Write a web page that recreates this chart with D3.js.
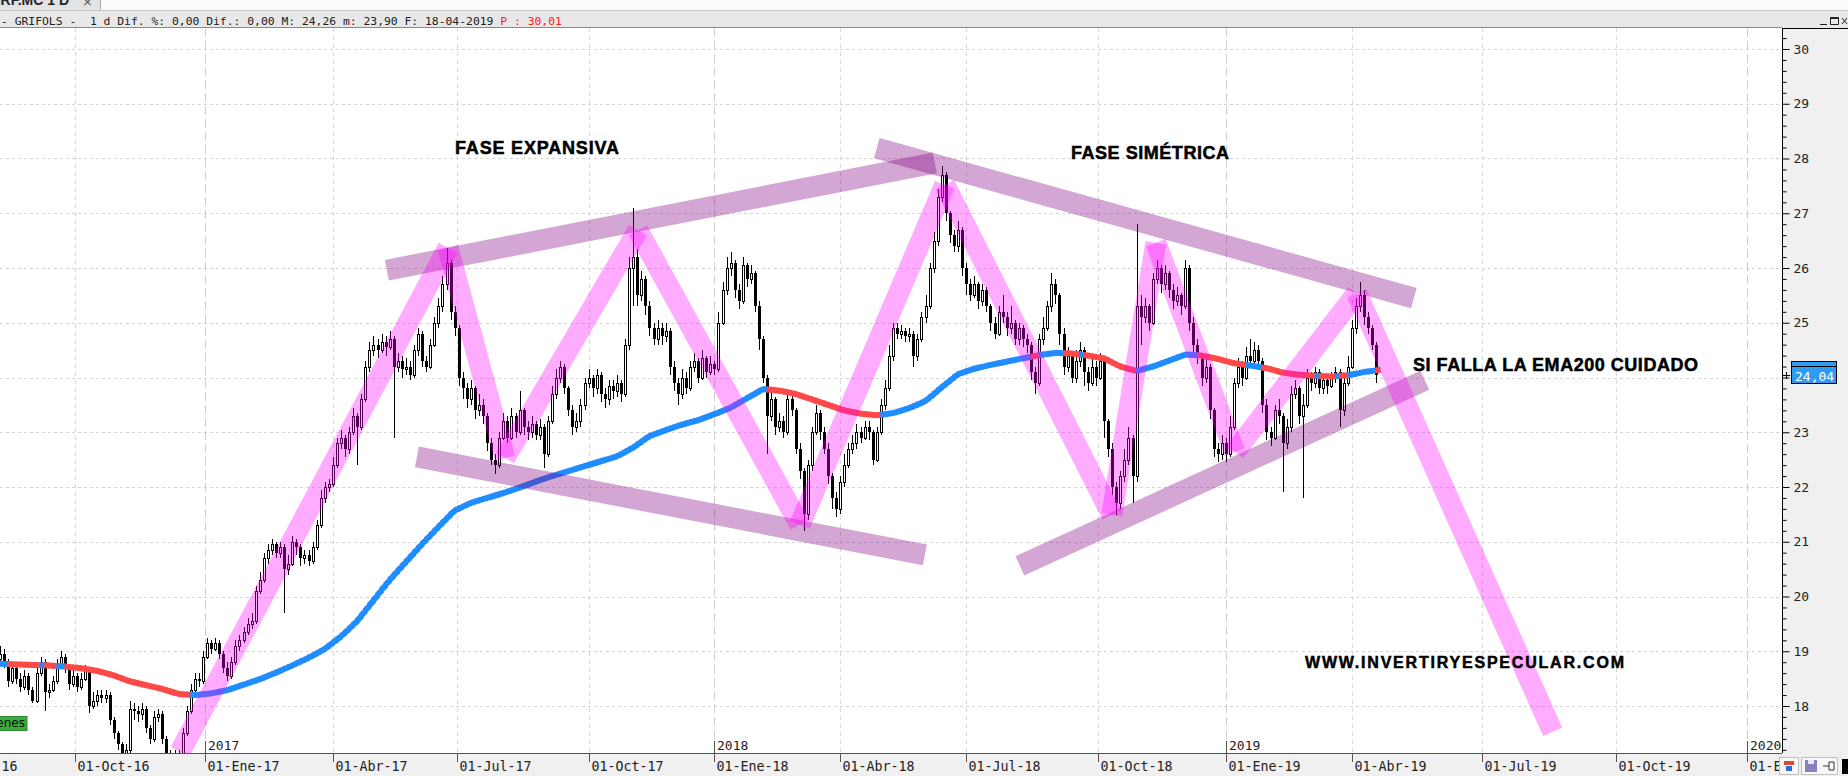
<!DOCTYPE html>
<html><head><meta charset="utf-8">
<script src="https://cdnjs.cloudflare.com/ajax/libs/d3/7.8.5/d3.min.js"></script>
<style>html,body{margin:0;padding:0;background:#fff;overflow:hidden}svg{display:block}text{white-space:pre}</style>
</head><body><svg id="c" width="1848" height="776"></svg>
<script>
// ---------- DATA ----------
// one candle every 2 trading days, first bar at trading-day index 0
const barStepDays = 2;
const firstOpen = 18.85;
const closes = [
18.95,18.8,18.45,18.7,18.5,18.35,18.55,18.3,18.1,18.6,
18.8,18.25,18.3,18.45,18.75,18.9,18.7,18.4,18.55,18.35,
18.5,18.65,18.0,18.1,18.2,18.15,18.2,17.75,17.5,17.3,
17.1,17.2,17.95,17.9,17.85,17.95,17.6,17.4,17.8,17.85,
17.4,17.1,17.0,17.05,17.1,17.5,17.9,18.3,18.5,18.45,
18.9,19.15,19.05,19.15,18.95,18.7,18.55,18.8,19.1,19.2,
19.35,19.5,19.55,20.1,20.3,20.7,20.85,20.95,20.8,20.9,
20.5,20.6,21.0,20.9,20.7,20.75,20.65,20.9,21.3,21.8,
22.0,22.05,22.4,22.8,22.9,22.7,23.0,23.3,23.1,23.6,
24.2,24.5,24.6,24.5,24.65,24.55,24.7,24.2,24.3,24.15,
24.2,24.05,24.5,24.8,24.3,24.2,24.6,25.0,25.3,25.7,
26.1,25.2,24.9,24.0,23.8,23.6,23.8,23.4,23.5,23.3,
22.8,22.5,22.4,22.9,23.2,22.9,23.3,23.0,23.4,23.1,
23.0,23.15,22.95,23.1,22.6,23.2,23.7,24.0,24.2,23.8,
23.4,23.1,23.2,23.5,23.9,24.0,23.8,24.05,23.7,23.6,
23.85,23.75,23.9,23.7,24.6,26.0,26.2,25.5,25.8,25.3,
24.9,24.7,24.9,24.75,24.85,24.2,23.9,23.7,24.0,23.8,
24.2,24.3,24.0,24.35,24.1,24.25,24.15,25.0,25.6,26.0,
26.1,25.6,25.4,26.05,25.8,25.9,25.3,24.7,24.0,23.3,
23.6,23.1,23.2,23.0,23.6,23.4,22.7,22.3,21.5,22.4,
23.0,23.35,23.0,22.7,22.2,21.8,21.6,22.1,22.4,22.7,
22.8,23.0,22.9,23.1,23.0,22.5,23.0,23.5,23.8,24.4,
24.9,24.8,24.85,24.75,24.8,24.4,24.7,25.1,25.3,26.0,
26.5,27.3,27.7,27.0,26.6,26.4,26.7,26.0,25.7,25.5,
25.7,25.4,25.6,25.3,25.0,24.8,25.2,25.1,24.9,25.0,
24.7,24.9,24.7,24.6,24.1,23.9,24.7,24.9,25.3,25.7,
25.5,24.8,24.2,24.4,24.0,24.3,24.5,24.1,23.9,24.2,
24.0,24.3,23.2,22.7,22.0,21.7,22.2,22.5,22.9,22.2,
25.3,25.1,25.3,25.0,25.8,26.0,25.7,25.9,25.6,25.4,
25.5,25.3,26.0,25.0,24.6,24.4,24.0,24.2,23.4,22.7,
22.6,22.8,22.6,23.1,23.9,24.2,24.0,24.4,24.3,24.5,
24.3,23.5,23.0,22.9,23.4,23.3,22.8,23.1,23.7,23.8,
23.3,23.5,24.0,23.9,24.1,23.8,23.95,23.85,24.0,24.1,
23.4,23.9,24.2,24.9,25.3,25.5,25.1,24.9,24.6,24.04];
const highs = [
19.1,19.05,18.85,18.8,18.75,18.6,18.65,18.6,18.35,18.7,
18.9,18.85,18.4,18.55,18.85,19.0,18.95,18.75,18.65,18.6,
18.6,18.75,18.7,18.25,18.3,18.3,18.3,18.25,17.8,17.55,
17.35,17.3,18.1,18.05,18.0,18.05,18.0,17.65,17.9,17.95,
17.9,17.45,17.2,17.2,17.2,17.6,18.0,18.4,18.6,18.6,
19.0,19.25,19.2,19.25,19.2,19.0,18.8,18.9,19.2,19.3,
19.45,19.6,19.7,20.2,20.45,20.8,20.95,21.05,21.0,21.0,
20.95,20.75,21.1,21.05,20.95,20.85,20.85,21.0,21.4,21.95,
22.1,22.15,22.55,22.9,23.05,22.95,23.1,23.45,23.35,23.7,
24.3,24.65,24.75,24.7,24.8,24.75,24.85,24.75,24.45,24.4,
24.35,24.3,24.6,24.9,24.85,24.4,24.7,25.1,25.45,25.85,
26.36,26.15,25.3,24.95,24.1,23.9,23.95,23.85,23.7,23.6,
23.35,22.9,22.6,23.0,23.35,23.3,23.45,23.35,23.75,23.45,
23.2,23.3,23.2,23.25,23.15,23.3,23.85,24.15,24.3,24.25,
23.85,23.5,23.35,23.6,24.0,24.15,24.05,24.15,24.1,23.8,
23.95,23.95,24.05,23.95,24.7,26.2,27.1,26.35,25.95,25.85,
25.4,25.0,25.05,25.0,25.0,24.9,24.3,24.0,24.15,24.1,
24.3,24.45,24.35,24.5,24.4,24.4,24.3,25.2,25.75,26.2,
26.3,26.15,25.7,26.2,26.1,26.05,25.95,25.4,24.75,24.05,
23.75,23.65,23.35,23.3,23.75,23.7,23.45,22.8,22.35,22.5,
23.1,23.5,23.4,23.1,22.8,22.25,21.9,22.2,22.6,22.8,
22.95,23.15,23.1,23.2,23.2,23.05,23.1,23.6,23.95,24.6,
25.0,25.0,24.95,24.9,24.9,24.85,24.8,25.2,25.5,26.1,
26.65,27.45,27.87,27.75,27.05,26.7,26.85,26.75,26.1,25.8,
25.85,25.75,25.7,25.65,25.35,25.1,25.3,25.5,25.2,25.3,
25.05,25.0,24.95,24.8,24.65,24.2,24.8,25.1,25.4,25.9,
25.8,25.55,24.9,24.55,24.45,24.5,24.65,24.55,24.2,24.35,
24.3,24.45,24.35,23.25,22.8,22.1,22.3,22.7,23.1,22.95,
26.8,25.5,25.45,25.35,25.9,26.15,26.05,26.05,25.95,25.7,
25.65,25.55,26.15,26.05,25.1,24.7,24.45,24.35,24.25,23.45,
22.8,22.95,22.9,23.3,24.0,24.35,24.3,24.55,24.7,24.65,
24.6,24.35,23.6,23.1,23.5,23.6,23.35,23.25,23.85,23.95,
23.85,23.7,24.15,24.1,24.2,24.15,24.05,24.0,24.1,24.2,
24.15,24.0,24.4,25.05,25.45,25.75,25.6,25.2,24.95,24.65];
const lows = [
18.75,18.7,18.35,18.4,18.4,18.25,18.3,18.2,18.05,18.05,
18.55,17.9,18.15,18.25,18.4,18.7,18.6,18.3,18.35,18.25,
18.3,18.45,17.87,17.95,18.0,18.05,18.05,17.65,17.4,17.2,
17.0,17.0,17.1,17.75,17.7,17.75,17.5,17.3,17.35,17.7,
17.3,17.0,16.9,16.9,16.95,17.05,17.45,17.85,18.2,18.35,
18.4,18.85,18.95,19.0,18.85,18.6,18.45,18.5,18.75,19.0,
19.15,19.3,19.4,19.5,20.05,20.25,20.6,20.75,20.7,20.7,
19.7,20.4,20.55,20.75,20.55,20.6,20.55,20.6,20.85,21.25,
21.7,21.9,22.0,22.35,22.7,22.55,22.6,22.95,22.4,23.05,
23.55,24.1,24.4,24.35,24.45,24.4,24.5,22.9,24.1,24.0,
24.05,23.95,24.0,24.4,24.2,24.1,24.15,24.55,24.9,25.2,
25.6,25.05,24.75,23.85,23.6,23.45,23.5,23.25,23.3,23.15,
22.65,22.4,22.23,22.35,22.85,22.8,22.85,22.9,22.95,22.95,
22.85,22.9,22.85,22.85,22.35,22.55,23.15,23.6,23.9,23.7,
23.3,22.95,23.0,23.1,23.4,23.8,23.65,23.7,23.55,23.45,
23.5,23.6,23.65,23.55,23.65,24.5,25.3,25.3,25.4,25.15,
24.75,24.6,24.6,24.6,24.65,24.05,23.75,23.5,23.6,23.7,
23.75,24.1,23.9,23.95,24.0,24.05,24.05,24.1,24.95,25.5,
25.85,25.45,25.25,25.35,25.65,25.7,25.2,24.5,23.9,22.6,
23.2,22.95,23.0,22.9,22.95,23.3,22.6,22.15,21.2,21.4,
22.3,22.95,22.85,22.6,22.05,21.6,21.45,21.5,22.0,22.35,
22.6,22.7,22.8,22.85,22.85,22.4,22.45,22.95,23.4,23.75,
24.3,24.7,24.7,24.65,24.65,24.2,24.3,24.65,25.0,25.25,
25.9,26.4,27.2,26.85,26.45,26.3,26.3,25.85,25.5,25.4,
25.45,25.25,25.3,25.2,24.85,24.7,24.75,25.0,24.75,24.8,
24.6,24.6,24.55,24.45,23.95,23.7,23.85,24.6,24.85,25.2,
25.35,24.6,24.05,24.1,23.9,23.9,24.2,23.85,23.75,23.85,
23.85,23.95,22.9,22.55,21.85,21.48,21.6,22.1,22.4,21.7,
22.1,24.6,25.0,24.85,24.95,25.7,25.55,25.6,25.45,25.25,
25.3,25.15,25.25,24.85,24.45,24.25,23.85,23.9,23.25,22.55,
22.45,22.5,22.45,22.55,23.05,23.8,23.85,23.95,24.2,24.2,
24.15,23.35,22.85,22.75,22.85,23.15,21.9,22.7,23.0,23.6,
23.15,21.8,23.45,23.75,23.8,23.7,23.7,23.7,23.8,23.9,
23.1,23.3,23.85,24.15,24.8,25.2,24.95,24.8,24.5,23.9];
// EMA200 read every 4 candles (8 trading days)
const emaStepBars = 4;
const ema200 = [
18.77,18.76,18.75,18.74,18.72,18.69,18.64,18.56,18.45,18.38,
18.31,18.22,18.20,18.23,18.29,18.39,18.49,18.61,18.74,18.88,
19.04,19.27,19.55,19.93,20.30,20.63,20.96,21.27,21.57,21.71,
21.80,21.89,21.99,22.10,22.20,22.29,22.38,22.47,22.56,22.72,
22.93,23.04,23.14,23.22,23.33,23.45,23.62,23.79,23.76,23.70,
23.60,23.50,23.40,23.34,23.31,23.35,23.44,23.57,23.82,24.06,
24.16,24.23,24.29,24.35,24.41,24.45,24.44,24.40,24.35,24.20,
24.12,24.20,24.31,24.42,24.40,24.34,24.26,24.22,24.17,24.09,
24.05,24.03,24.02,24.04,24.10,24.14];
// x axis: trading-day index of each label
const tickDays   = [-28, 37, 101, 164, 225, 290, 352, 414, 476, 541, 604, 666, 730, 796, 861];
const tickLabels = ["01-Jul-16","01-Oct-16","01-Ene-17","01-Abr-17","01-Jul-17","01-Oct-17","01-Ene-18","01-Abr-18","01-Jul-18","01-Oct-18","01-Ene-19","01-Abr-19","01-Jul-19","01-Oct-19","01-Ene-20"];
const yearDays   = [101, 352, 604, 861];
const yearLabels = ["2017","2018","2019","2020"];
const priceTicks = [18,19,20,21,22,23,24,25,26,27,28,29,30];
const lastPrice = 24.04;
// drawn trend annotations: [trading-day index, price]
const zigzag = [[88.7,17.16],[220.7,26.37],[248.8,22.53],[314.3,26.69],[394.1,21.31],[465.5,27.52],[547.8,21.49],[569.5,26.46],[608.4,22.64],[668.5,25.54],[765.0,17.53]];
const channels = [
  [[190.6,25.96],[460.6,27.92]],
  [[205.4,22.55],[455.7,20.76]],
  [[432.0,28.19],[696.6,25.45]],
  [[502.5,20.56],[702.0,23.95]]];
const noteTexts = ["FASE EXPANSIVA","FASE SIMÉTRICA","SI FALLA LA EMA200 CUIDADO","WWW.INVERTIRYESPECULAR.COM"];
const headerText = "- GRIFOLS -  1 d Dif. %: 0,00 Dif.: 0,00 M: 24,26 m: 23,90 F: 18-04-2019";
const headerRed = "P : 30,01";

// ---------- LAYOUT ----------
const W = 1848, H = 776;
const L = 0, R = 1782, T = 28, B = 753;
const svg = d3.select("#c");
const xs = d3.scaleLinear().domain([0, 878]).range([L, R]);
const ys = d3.scaleLinear().domain([18, 30]).range([706, 49]);
const mono = "'DejaVu Sans Mono', monospace";

svg.append("rect").attr("width", W).attr("height", H).attr("fill", "#fff");
svg.append("defs").append("clipPath").attr("id", "plot")
  .append("rect").attr("x", L).attr("y", T).attr("width", R - L).attr("height", B - T);

// grid
const grid = svg.append("g").attr("clip-path", "url(#plot)");
grid.selectAll("line.h").data(priceTicks).join("line")
  .attr("x1", L).attr("x2", R).attr("y1", d => Math.round(ys(d)) + 0.5).attr("y2", d => Math.round(ys(d)) + 0.5)
  .attr("stroke", "#d4d4d4").attr("stroke-dasharray", "3,3");
grid.selectAll("line.v").data(tickDays).join("line")
  .attr("x1", d => Math.round(xs(d)) + 0.5).attr("x2", d => Math.round(xs(d)) + 0.5).attr("y1", T).attr("y2", B)
  .attr("stroke", d => yearDays.includes(d) ? "#cfcfcf" : "#d8d8d8")
  .attr("stroke-dasharray", d => yearDays.includes(d) ? "9,4" : "4,4");

// candles
const bars = closes.map((c, k) => ({
  x: Math.round(xs(k * barStepDays)), o: k ? closes[k - 1] : firstOpen, c, h: highs[k], l: lows[k]
}));
const cg = svg.append("g").attr("clip-path", "url(#plot)").attr("shape-rendering", "crispEdges");
cg.selectAll("line.w").data(bars).join("line")
  .attr("x1", d => d.x + 0.5).attr("x2", d => d.x + 0.5)
  .attr("y1", d => ys(d.h)).attr("y2", d => ys(d.l)).attr("stroke", "#000");
cg.selectAll("rect.b").data(bars).join("rect")
  .attr("x", d => d.c >= d.o ? d.x - 0.5 : d.x - 1)
  .attr("width", d => d.c >= d.o ? 2 : 3)
  .attr("y", d => ys(Math.max(d.o, d.c)) + (d.c >= d.o ? 0.5 : 0))
  .attr("height", d => Math.max(1, ys(Math.min(d.o, d.c)) - ys(Math.max(d.o, d.c))))
  .attr("fill", d => d.c >= d.o ? "#fff" : "#000")
  .attr("stroke", d => d.c >= d.o ? "#000" : "none");

// EMA 200 (blue when the close is above it, red when below)
const eg = svg.append("g").attr("clip-path", "url(#plot)");
const emaSegs = [];
for (let j = 0; j < ema200.length - 1; j++) {
  for (let s = 0; s < emaStepBars; s++) {
    const k = j * emaStepBars + s;
    if (k >= closes.length) break;
    const e0 = ema200[j] + (ema200[j + 1] - ema200[j]) * s / emaStepBars;
    const e1 = ema200[j] + (ema200[j + 1] - ema200[j]) * (s + 1) / emaStepBars;
    emaSegs.push({ d0: k * barStepDays, d1: (k + 1) * barStepDays, e0, e1, up: closes[k] > e0 });
  }
}
eg.selectAll("line").data(emaSegs).join("line")
  .attr("x1", d => xs(d.d0) - 0.5).attr("x2", d => xs(d.d1) + 0.5)
  .attr("y1", d => ys(d.e0)).attr("y2", d => ys(d.e1))
  .attr("stroke", d => d.up ? "#1f8cff" : "#ff4848").attr("stroke-width", 6);

// channels and zigzag
const og = svg.append("g").attr("clip-path", "url(#plot)");
og.selectAll("line.ch").data(channels).join("line")
  .attr("x1", d => xs(d[0][0])).attr("y1", d => ys(d[0][1]))
  .attr("x2", d => xs(d[1][0])).attr("y2", d => ys(d[1][1]))
  .attr("stroke", "rgba(128,0,128,0.35)").attr("stroke-width", 21);
const zz = d3.pairs(zigzag);
og.selectAll("line.zz").data(zz).join("line")
  .attr("x1", d => xs(d[0][0])).attr("y1", d => ys(d[0][1]))
  .attr("x2", d => xs(d[1][0])).attr("y2", d => ys(d[1][1]))
  .attr("stroke", "rgba(255,0,255,0.33)").attr("stroke-width", 21);

// annotation texts
const notePos = [[455, 154, 164, 18], [1071, 159, 158, 18], [1413, 371, 285, 18], [1305, 668, 319, 16]];
svg.selectAll("text.note").data(noteTexts).join("text")
  .attr("x", (d, i) => notePos[i][0]).attr("y", (d, i) => notePos[i][1])
  .attr("textLength", (d, i) => notePos[i][2]).attr("lengthAdjust", "spacing")
  .attr("font-family", "'Liberation Sans', Arial, sans-serif").attr("font-weight", "bold")
  .attr("font-size", (d, i) => notePos[i][3]).attr("fill", "#000")
  .attr("stroke", "#000").attr("stroke-width", 0.5).text(d => d);

// bottom band + x axis
svg.append("rect").attr("x", 0).attr("y", B).attr("width", W).attr("height", H - B).attr("fill", "#f0f0f0");
const xAxis = d3.axisBottom(xs).tickValues(tickDays).tickFormat((d, i) => tickLabels[i]).tickSize(9).tickSizeOuter(0);
const xg = svg.append("g").attr("transform", `translate(0,${B})`).call(xAxis);
xg.select(".domain").attr("stroke", "#555").attr("d", `M${L},0.5H${R}`);
xg.selectAll(".tick line").attr("stroke", "#555").attr("shape-rendering", "crispEdges");
xg.selectAll(".tick").attr("transform", d => `translate(${Math.round(xs(d)) + 0.5},0)`);
xg.selectAll(".tick text").attr("x", 2).attr("y", 18).attr("dy", 0).attr("text-anchor", "start")
  .attr("font-family", mono).attr("font-size", 13.3).attr("fill", "#222");

// year markers
const yg = svg.append("g");
yg.selectAll("line").data(yearDays).join("line")
  .attr("x1", d => Math.round(xs(d)) + 0.5).attr("x2", d => Math.round(xs(d)) + 0.5)
  .attr("y1", B - 12).attr("y2", B).attr("stroke", "#555");
yg.selectAll("text").data(yearLabels).join("text")
  .attr("x", (d, i) => Math.round(xs(yearDays[i])) + 3).attr("y", B - 3)
  .attr("font-family", mono).attr("font-size", 13).attr("fill", "#222").text(d => d);

// volume label (cut at the left edge)
svg.append("rect").attr("x", -45).attr("y", 716.5).attr("width", 72).attr("height", 14)
  .attr("fill", "#3daa3d").attr("stroke", "#2c8a2c");
svg.append("text").attr("x", 25).attr("y", 727).attr("text-anchor", "end")
  .attr("font-family", "'DejaVu Sans', sans-serif").attr("font-size", 12).attr("fill", "#111").text("Volúmenes");

// right panel + y axis
svg.append("rect").attr("x", R).attr("y", T).attr("width", W - R).attr("height", H - T).attr("fill", "#f0f0f0");
const minor = d3.range(172, 310, 2).map(v => v / 10).filter(v => Math.abs(v - Math.round(v)) > 1e-6);
const yMinor = d3.axisRight(ys).tickValues(minor).tickSize(4).tickFormat("").tickSizeOuter(0);
const yMajor = d3.axisRight(ys).tickValues(priceTicks).tickSize(7).tickPadding(4).tickSizeOuter(0)
  .tickFormat(d => Math.abs(d - lastPrice) < 0.5 ? "" : d);
const ya1 = svg.append("g").attr("transform", `translate(${R + 0.5},0)`).call(yMinor);
ya1.select(".domain").attr("d", `M0,${T}V${B}`).attr("stroke", "#000");
ya1.selectAll(".tick line").attr("stroke", "#000");
const ya2 = svg.append("g").attr("transform", `translate(${R + 0.5},0)`).call(yMajor);
ya2.select(".domain").remove();
ya2.selectAll(".tick line").attr("stroke", "#000");
ya2.selectAll(".tick text").attr("x", 11).attr("font-family", mono).attr("font-size", 13).attr("fill", "#222");

// last price box
const lp = ys(lastPrice);
svg.append("rect").attr("x", 1791.5).attr("y", Math.round(lp) - 13.5).attr("width", 45).attr("height", 22)
  .attr("fill", "#2f9cf3").attr("stroke", "#000");
svg.append("line").attr("x1", 1792).attr("x2", 1836).attr("y1", Math.round(lp) - 8.5).attr("y2", Math.round(lp) - 8.5).attr("stroke", "#000");
svg.append("text").attr("x", 1795).attr("y", Math.round(lp) + 6).attr("font-family", mono).attr("font-size", 13)
  .attr("fill", "#fff").text(d3.format(".2f")(lastPrice).replace(".", ","));
svg.append("path").attr("d", `M1783,${Math.round(lp) + 0.5}H1790M1786.5,${Math.round(lp) - 3}V${Math.round(lp) + 4}`)
  .attr("stroke", "#000").attr("fill", "none");

// header
svg.append("rect").attr("x", 0).attr("y", 0).attr("width", W).attr("height", 10).attr("fill", "#fbfbfb");
svg.append("rect").attr("x", 0).attr("y", 0).attr("width", 100).attr("height", 10).attr("fill", "#e3e3e3");
svg.append("line").attr("x1", 100.5).attr("x2", 100.5).attr("y1", 0).attr("y2", 10).attr("stroke", "#a8a8a8");
svg.append("text").attr("x", 69).attr("y", 5).attr("text-anchor", "end").attr("font-family", "'Liberation Sans', Arial, sans-serif")
  .attr("font-weight", "bold").attr("font-size", 14).attr("fill", "#222").text("GRF.MC 1 D");
svg.append("text").attr("x", 82).attr("y", 6).attr("font-family", "'DejaVu Sans', sans-serif").attr("font-size", 13).attr("fill", "#555").text("×");
svg.append("rect").attr("x", 0).attr("y", 10).attr("width", W).attr("height", 18).attr("fill", "#e8e8e8");
svg.append("line").attr("x1", 0).attr("x2", W).attr("y1", 10.5).attr("y2", 10.5).attr("stroke", "#c8c8c8");
svg.append("line").attr("x1", 0).attr("x2", R).attr("y1", 27.5).attr("y2", 27.5).attr("stroke", "#8a8a8a");
svg.append("line").attr("x1", R).attr("x2", W).attr("y1", 28.5).attr("y2", 28.5).attr("stroke", "#000");
svg.append("text").attr("x", 1).attr("y", 25).attr("font-family", mono).attr("font-size", 11.36).attr("fill", "#222").text(headerText);
svg.append("text").attr("x", 1 + (headerText.length + 1) * 6.84).attr("y", 25).attr("font-family", mono).attr("font-size", 11.36)
  .attr("fill", "#ff1a1a").text(headerRed);
// window buttons
svg.append("path").attr("d", "M1820,24.5H1827M1830.5,17.5H1838.5V24.5H1830.5Z M1831,18.5H1838M1842,18L1847,24M1847,18L1842,24")
  .attr("stroke", "#222").attr("fill", "none");

// bottom-right toolbar icons
svg.append("rect").attr("x", 1779.5).attr("y", 757.5).attr("width", 19).attr("height", 17).attr("fill", "#f7f7f7").attr("stroke", "#c0c0c0");
svg.append("rect").attr("x", 1784).attr("y", 761).attr("width", 10).attr("height", 4).attr("fill", "#d94a2a");
svg.append("rect").attr("x", 1786).attr("y", 766).attr("width", 6).attr("height", 5).attr("fill", "#2a6fd9");
svg.append("rect").attr("x", 1801.5).attr("y", 757.5).attr("width", 36).attr("height", 17).attr("fill", "#f7f7f7").attr("stroke", "#c0c0c0");
svg.append("rect").attr("x", 1805).attr("y", 760).attr("width", 12).attr("height", 12).attr("fill", "#8a7fc0");
svg.append("rect").attr("x", 1808).attr("y", 760).attr("width", 6).attr("height", 4).attr("fill", "#e8e8f8");
svg.append("path").attr("d", "M1823,766H1829M1829,762V770H1834V762Z").attr("stroke", "#333").attr("fill", "none");
svg.append("rect").attr("x", 1842).attr("y", 759).attr("width", 6).attr("height", 15).attr("fill", "#000");
</script></body></html>
